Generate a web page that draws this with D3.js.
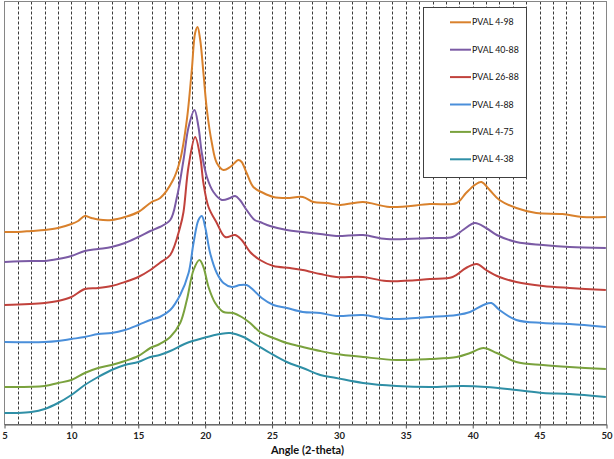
<!DOCTYPE html>
<html><head><meta charset="utf-8">
<script src="https://cdn.jsdelivr.net/npm/d3@7"></script>
<style>html,body{margin:0;padding:0;background:#fff;}svg{display:block;}</style>
</head><body>
<svg id="chart" width="614" height="459"></svg>
<script>
// ---- data (intensity in arbitrary offset units) ----
const seriesNames = ["PVAL 4-98","PVAL 40-88","PVAL 26-88","PVAL 4-88","PVAL 4-75","PVAL 4-38"];
const seriesColors = ["#D9812C","#7B5BA5","#C1423C","#4A8FDA","#7AA23D","#2F8FA6"];

const angle_4_98 = [5,6,7,8,9,10,10.5,11,11.5,12,13,14,15,16,16.64,17.6,18.13,18.63,19.0,19.25,19.43,19.63,19.87,20.13,20.5,20.87,21.37,21.87,22.49,22.73,23.1,23.6,24.35,25.1,26.1,27.3,28.1,29.1,30.1,31.8,33.8,36.8,38.8,39.5,40.15,40.65,41.27,42.0,43.26,44.75,46.7,48.2,49.95];
const int_4_98   = [190,190,191,192,194,198,201,206,204,202.5,202,205,210,220,224,242,262,302,352,389,395,382,349,312,279,259,252,255,262,260,249,235,229,225,224,225,220,219,217,220,215,218,219,229,237,240,232,222,214,209,208,205,205];

const angle_40_88 = [5,7,8,9,10,11,12,13,14,15,15.9,16.6,17.39,17.89,18.38,18.76,19.2,19.5,19.75,20.13,20.62,21.25,21.87,22.24,22.6,23.1,23.7,24.1,24.85,26.1,27.3,28.6,29.8,31.8,33.56,36.8,38.5,39.27,40.15,41.0,41.8,43.26,45.25,47.24,49.95];
const int_40_88   = [160,161,161,163,166,171,173,175,179,185,191,195,202,225,262,295,312,295,269,245,230,222,224,226,222,212,202,200,196,192,190,188,186,187,183,184,185,192,199,194,187,180,177,175,174];

const angle_26_88 = [5,8,9,10,11,12,13,14,15,15.9,16.6,17.39,18.13,18.38,18.75,19.25,19.63,19.87,20.25,20.87,21.5,22.24,22.73,23.36,24.1,25.1,26.34,27.3,28.6,29.8,31.8,33.56,36.8,38.5,39.5,40.3,41.0,42.0,43.26,45.25,47.24,49.95];
const int_26_88   = [117,119,121,125,133,134,136,140,145,152,159,167,195,210,255,285,265,239,215,199,185,187,182,170,162,156,154,152,148,145,145,141,143,145,154,158,152,145,140,136,134,132];

const angle_4_88 = [5,8,9,10,11,12,13,14,15,15.9,16.6,17.39,18.13,18.76,19.13,19.5,19.75,20.0,20.37,20.87,21.37,22.0,22.6,23.1,23.6,24.23,25.1,26.1,27.3,28.6,29.8,31.8,33.8,36.8,38.8,39.8,40.8,41.4,42.0,43.26,45.25,47.24,49.95];
const int_4_88   = [80,80,81,83,85,88,89,92,97,102,105,112,127,149,179,202,206,195,169,149,139,135,137,137,132,124,117,114,110,109,106,107,103,105,107,110,117,119,112,102,99,98,95];

const angle_4_75 = [5,8,9,10,11,12,13,14,15,15.9,16.6,17.39,18.13,18.63,19.13,19.57,19.87,20.25,20.75,21.37,22.1,22.73,23.36,24.1,25.1,26.1,27.3,28.6,29.8,31.8,34.3,36.8,38.8,39.8,40.8,41.8,43.26,45.25,47.24,49.95];
const int_4_75   = [35,36,39,42,49,54,57,61,66,74,78,85,99,122,152,162,155,135,119,110,109,105,99,90,84,79,75,71,68,65,62,63,65,69,74,69,60,57,55,53];

const angle_4_38 = [5,6,7,8,9,10,11,12,13,14,15,15.9,16.6,17.39,18.63,19.87,21.1,21.87,22.86,23.86,24.85,26.1,27.3,28.6,29.8,31.8,34.3,36.8,39.27,41.0,43.26,45.25,47.24,49.95];
const int_4_38   = [9,9,10,13,19,27,37,45,52,57,60,65,67,71,79,84,88,89,85,77,69,60,54,47,44,39,36,35,36,35,32,29,28,25];

const angleTicks = [5,10,15,20,25,30,35,40,45,50];
const xTitle = "Angle (2-theta)";

// ---- build ----
const seriesAngles = [angle_4_98, angle_40_88, angle_26_88, angle_4_88, angle_4_75, angle_4_38];
const seriesInts = [int_4_98, int_40_88, int_26_88, int_4_88, int_4_75, int_4_38];
const series = seriesNames.map((n,i)=>({name:n,color:seriesColors[i],pts:seriesAngles[i].map((a,j)=>[a,seriesInts[i][j]])}));

const svg = d3.select("#chart");
const L=4.5, R=606.5, T=1.5, B=424.5;
const x = d3.scaleLinear().domain([5,50]).range([L,R]);
const y = d3.scaleLinear().domain([-2.5,420.5]).range([B,T]);

// gridlines every degree
svg.append("g").selectAll("line").data(d3.range(6,50)).join("line")
  .attr("x1",d=>Math.round(x(d))+0.5).attr("x2",d=>Math.round(x(d))+0.5)
  .attr("y1",T).attr("y2",B)
  .attr("stroke","#3a3a3a").attr("stroke-width",1).attr("stroke-dasharray","3,2");

// plot border
svg.append("rect").attr("x",L).attr("y",T).attr("width",R-L).attr("height",B-T)
  .attr("fill","none").attr("stroke","#868686").attr("stroke-width",1);

// x axis
const xAxis = d3.axisBottom(x).tickValues(angleTicks).tickSize(4).tickSizeOuter(0).tickPadding(4);
const gx = svg.append("g").attr("transform",`translate(0,${B})`).call(xAxis);
gx.select(".domain").attr("stroke","#555");
gx.selectAll(".tick line").attr("stroke","#555");
gx.selectAll("text").attr("font-family","Lato, 'Open Sans', sans-serif").attr("font-weight","bold").attr("font-size","9.5px").attr("fill","#222");

svg.append("text").attr("x",(L+R)/2+2).attr("y",454).attr("text-anchor","middle")
  .attr("font-family","Lato, 'Open Sans', sans-serif").attr("font-weight","bold").attr("font-size","11px").attr("fill","#111")
  .text(xTitle);

// lines
const line = d3.line().x(d=>x(d[0])).y(d=>y(d[1])).curve(d3.curveCatmullRom.alpha(0.5));
svg.append("g").selectAll("path").data(series.slice().reverse()).join("path")
  .attr("d",d=>line(d.pts)).attr("fill","none").attr("stroke",d=>d.color)
  .attr("stroke-width",2).attr("stroke-linejoin","round");

// legend
const lg = svg.append("g");
lg.append("rect").attr("x",423.5).attr("y",7.5).attr("width",103).attr("height",170)
  .attr("fill","#fff").attr("stroke","#404040").attr("stroke-width",1);
const items = lg.selectAll("g.item").data(series).join("g").attr("class","item")
  .attr("transform",(d,i)=>`translate(0,${22.3+i*27.4})`);
items.append("line").attr("x1",450).attr("x2",471).attr("y1",0).attr("y2",0)
  .attr("stroke",d=>d.color).attr("stroke-width",2);
items.append("text").attr("x",472).attr("y",3.1).text(d=>d.name)
  .attr("font-family","Lato, 'Open Sans', sans-serif").attr("font-size","8.8px").attr("fill","#111");
</script>
</body></html>
